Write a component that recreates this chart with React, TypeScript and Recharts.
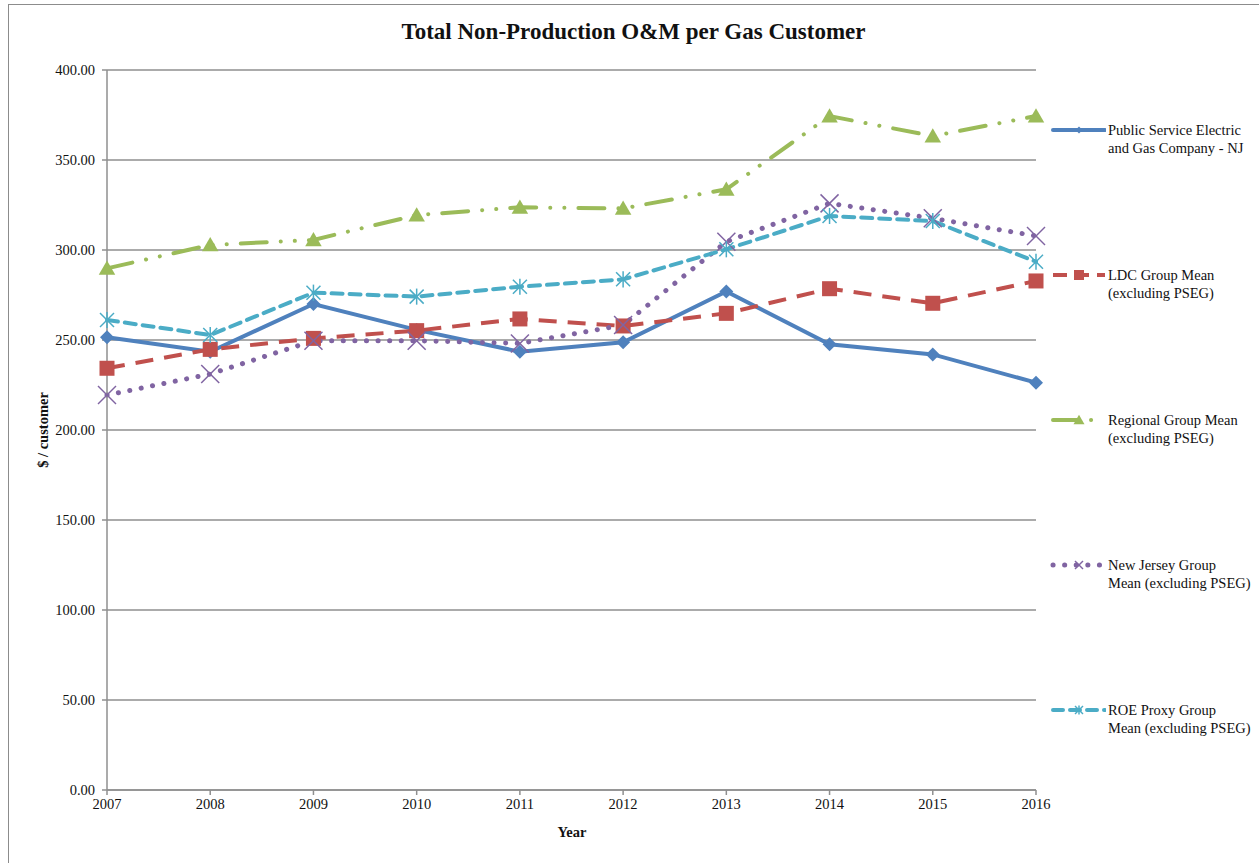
import { LineChart, Line, XAxis, YAxis, CartesianGrid, Legend } from "recharts";

const years = ["2007", "2008", "2009", "2010", "2011", "2012", "2013", "2014", "2015", "2016"];
const pseg = [251.5, 243.5, 270.0, 255.6, 243.5, 248.7, 276.9, 247.6, 242.0, 226.3];
const ldcMean = [234.3, 244.8, 250.9, 255.2, 261.7, 257.8, 264.8, 278.5, 270.4, 282.8];
const regionalMean = [289.8, 302.8, 305.6, 319.4, 323.7, 323.1, 333.7, 374.4, 363.3, 374.4];
const njMean = [219.4, 231.1, 249.6, 249.6, 248.1, 258.3, 304.6, 325.9, 317.6, 307.8];
const roeMean = [261.1, 252.8, 276.3, 274.1, 279.6, 283.7, 300.4, 318.9, 316.1, 293.5];
const yTicks = [0, 50, 100, 150, 200, 250, 300, 350, 400];

const FONT = "'Liberation Serif', 'Times New Roman', serif";
const GRID = "#8f8f8f";

type Shape = "diamond" | "square" | "triangle" | "x" | "star";

const series = [
  { key: "pseg", lines: ["Public Service Electric", "and Gas Company - NJ"], color: "#4F81BD", width: 4, dash: undefined, legendDash: undefined, cap: "round", shape: "diamond" as Shape },
  { key: "ldc", lines: ["LDC Group Mean", "(excluding PSEG)"], color: "#C0504D", width: 4, dash: "18 11", legendDash: "14 8", cap: "butt", shape: "square" as Shape },
  { key: "regional", lines: ["Regional Group Mean", "(excluding PSEG)"], color: "#9BBB59", width: 4, dash: "26 14 0.1 14 0.1 14", legendDash: "24 14 0.1 14", cap: "round", shape: "triangle" as Shape },
  { key: "nj", lines: ["New Jersey Group", "Mean (excluding PSEG)"], color: "#8064A2", width: 5, dash: "0.1 11.5", legendDash: "0.1 11.5", cap: "round", shape: "x" as Shape },
  { key: "roe", lines: ["ROE Proxy Group", "Mean (excluding PSEG)"], color: "#4BACC6", width: 4, dash: "11 7", legendDash: "10 7", cap: "round", shape: "star" as Shape },
];

const data = years.map((year, i) => ({
  year,
  pseg: pseg[i],
  ldc: ldcMean[i],
  regional: regionalMean[i],
  nj: njMean[i],
  roe: roeMean[i],
}));

function marker(shape: Shape, cx: number, cy: number, color: string, s: number, key?: string) {
  if (shape === "diamond") {
    return <polygon key={key} points={`${cx},${cy - s} ${cx + s},${cy} ${cx},${cy + s} ${cx - s},${cy}`} fill={color} />;
  }
  if (shape === "square") {
    return <rect key={key} x={cx - s} y={cy - s} width={2 * s} height={2 * s} fill={color} />;
  }
  if (shape === "triangle") {
    return <polygon key={key} points={`${cx},${cy - s * 1.05} ${cx + s * 1.1},${cy + s * 0.85} ${cx - s * 1.1},${cy + s * 0.85}`} fill={color} />;
  }
  if (shape === "x") {
    return (
      <g key={key} stroke={color} strokeWidth={1.5}>
        <line x1={cx - s} y1={cy - s} x2={cx + s} y2={cy + s} />
        <line x1={cx - s} y1={cy + s} x2={cx + s} y2={cy - s} />
      </g>
    );
  }
  return (
    <g key={key} stroke={color} strokeWidth={1.5}>
      <line x1={cx - s} y1={cy - s} x2={cx + s} y2={cy + s} />
      <line x1={cx - s} y1={cy + s} x2={cx + s} y2={cy - s} />
      <line x1={cx} y1={cy - s * 1.15} x2={cx} y2={cy + s * 1.15} />
    </g>
  );
}

const dotSize: Record<Shape, number> = { diamond: 7, square: 7.5, triangle: 7.5, x: 9, star: 7 };
const legendSize: Record<Shape, number> = { diamond: 3.5, square: 5, triangle: 5, x: 4, star: 4 };

function LegendList() {
  return (
    <div style={{ fontFamily: FONT, fontSize: 14.5, color: "#111" }}>
      {series.map((s) => (
        <div key={s.key} style={{ height: 145, display: "flex", alignItems: "flex-start" }}>
          <svg width={56} height={18} style={{ flex: "none" }}>
            <line
              x1={3}
              y1={9}
              x2={55}
              y2={9}
              stroke={s.color}
              strokeWidth={s.width}
              strokeDasharray={s.legendDash}
              strokeLinecap={s.cap as any}
            />
            {marker(s.shape, 29, 9, s.color, legendSize[s.shape])}
          </svg>
          <div style={{ lineHeight: "18px", paddingLeft: 2, whiteSpace: "nowrap" }}>
            {s.lines[0]}
            <br />
            {s.lines[1]}
          </div>
        </div>
      ))}
    </div>
  );
}

export default function App() {
  return (
    <div style={{ position: "absolute", left: 0, top: 0, width: 1259, height: 863, overflow: "hidden", background: "#fff" }}>
      <div style={{ position: "absolute", left: 8, top: 4, width: 1400, height: 1000, border: "1.5px solid #8c8c8c" }} />
      <div
        style={{
          position: "absolute",
          left: 8,
          top: 19,
          width: 1251,
          textAlign: "center",
          fontFamily: FONT,
          fontWeight: "bold",
          fontSize: 23,
          color: "#111",
        }}
      >
        Total Non-Production O&amp;M per Gas Customer
      </div>
      <div
        style={{
          position: "absolute",
          left: 43,
          top: 430,
          transform: "translate(-50%, -50%) rotate(-90deg)",
          fontFamily: FONT,
          fontWeight: "bold",
          fontSize: 14.5,
          whiteSpace: "nowrap",
          color: "#111",
        }}
      >
        $ / customer
      </div>
      <div
        style={{
          position: "absolute",
          left: 572,
          top: 832,
          transform: "translate(-50%, -50%)",
          fontFamily: FONT,
          fontWeight: "bold",
          fontSize: 14.5,
          color: "#111",
        }}
      >
        Year
      </div>
      <div style={{ position: "absolute", left: 0, top: 0 }}>
        <LineChart width={1259} height={863} data={data} margin={{ top: 70, right: 223, bottom: 43, left: 47 }}>
          <CartesianGrid vertical={false} stroke={GRID} strokeWidth={1.4} />
          <XAxis
            dataKey="year"
            height={30}
            stroke={GRID}
            strokeWidth={1.5}
            tickSize={5}
            tickMargin={4}
            tick={{ fill: "#111", fontFamily: FONT, fontSize: 14.5 }}
            interval={0}
          />
          <YAxis
            width={60}
            domain={[0, 400]}
            ticks={yTicks}
            stroke={GRID}
            strokeWidth={1.5}
            tickSize={5}
            tickMargin={7}
            tickFormatter={(v: number) => v.toFixed(2)}
            tick={{ fill: "#111", fontFamily: FONT, fontSize: 14.5 }}
          />
          <Legend
            layout="vertical"
            align="center"
            verticalAlign="middle"
            wrapperStyle={{ left: 1050, top: 121, width: 209 }}
            content={() => <LegendList />}
          />
          {series.map((s) => (
            <Line
              key={s.key}
              dataKey={s.key}
              name={s.lines.join(" ")}
              type="linear"
              stroke={s.color}
              strokeWidth={s.width}
              strokeDasharray={s.dash}
              strokeLinecap={s.cap as any}
              isAnimationActive={false}
              activeDot={false}
              dot={(p: any) => marker(s.shape, p.cx, p.cy, s.color, dotSize[s.shape], `${s.key}-${p.index}`)}
            />
          ))}
        </LineChart>
      </div>
    </div>
  );
}
